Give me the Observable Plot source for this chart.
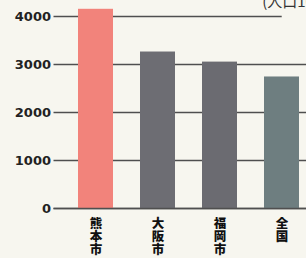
<!DOCTYPE html>
<html>
<head>
<meta charset="utf-8">
<script src="https://cdn.jsdelivr.net/npm/d3@7"></script>
<script src="https://cdn.jsdelivr.net/npm/@observablehq/plot@0.6"></script>
<style>
  html, body { margin: 0; padding: 0; background: #f7f6ef; overflow: hidden; }
  #chart svg { display: block; background: transparent; }
</style>
</head>
<body>
<div id="chart"></div>
<script>
const cities = ["熊本市", "大阪市", "福岡市", "全国"];
const values = [4150, 3260, 3050, 2740];
const barColors = ["#f2837b", "#6d6d73", "#6b6b71", "#6e7e80"];
const yTicks = [0, 1000, 2000, 3000, 4000];
const unitLabel = "(人口10万人あたり)";

const data = cities.map((c, i) => ({ city: c, value: values[i], color: barColors[i] }));
const innerTicks = yTicks.filter(t => t < 4000);
const topTick = yTicks.filter(t => t === 4000);

const chart = Plot.plot({
  width: 306,
  height: 258,
  marginLeft: 76.5,
  marginRight: 5.3,
  marginTop: 16,
  marginBottom: 50,
  style: { background: "transparent", overflow: "visible" },
  x: { domain: cities, padding: 0.44, paddingOuter: 0, axis: null },
  y: { domain: [0, 4000], axis: null },
  marks: [
    Plot.ruleY(innerTicks, { stroke: "#4f4f4f", strokeWidth: 1.7, insetLeft: -23, insetRight: -6 }),
    Plot.ruleY(topTick, { stroke: "#4f4f4f", strokeWidth: 1.7, insetLeft: -23, insetRight: 19 }),
    Plot.barY(data, { x: "city", y: "value", fill: "color" }),
    Plot.ruleY([0], { stroke: "#4f4f4f", strokeWidth: 1.7, insetLeft: -23, insetRight: -6 }),
    Plot.axisY({
      ticks: yTicks, tickSize: 0, tickPadding: 26, tickFormat: d3.format("d"), label: null,
      fontSize: 13, fontWeight: "bold", fontFamily: "DejaVu Sans", fill: "#222"
    }),
    Plot.text(data, {
      x: "city", text: "city", frameAnchor: "bottom", dy: 8.5, textAnchor: "start",
      fontSize: 12.5, fontWeight: 900, fontFamily: "Noto Sans CJK JP", fill: "#111"
    }),
    Plot.text([unitLabel], {
      text: d => d, frameAnchor: "top-right", textAnchor: "start", lineAnchor: "bottom",
      dx: -39, dy: -10, fontSize: 15, fontFamily: "Noto Sans CJK JP", fill: "#333"
    })
  ]
});
// vertical (tategaki) labels under the bars
chart.querySelectorAll("text").forEach(t => {
  if (cities.includes(t.textContent)) {
    t.style.writingMode = "vertical-rl";
    t.style.textOrientation = "upright";
    t.style.letterSpacing = "0.5px";
    t.removeAttribute("dy");
  }
});
document.getElementById("chart").append(chart);
</script>
</body>
</html>
